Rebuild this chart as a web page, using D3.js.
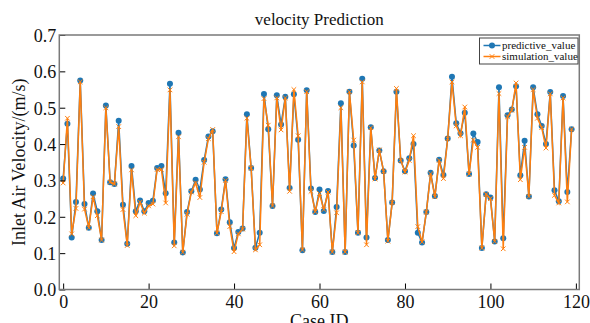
<!DOCTYPE html>
<html>
<head>
<meta charset="utf-8">
<script src="https://cdn.jsdelivr.net/npm/d3@7"></script>
<style>
  body { margin: 0; background: #fff; }
  text { font-family: "Liberation Serif", "Times New Roman", serif; }
</style>
</head>
<body>
<div id="chart"></div>
<script>
// values, case ids 0..119
const predictive_value = [
  0.305, 0.456, 0.143, 0.241, 0.575, 0.235, 0.170, 0.264, 0.215, 0.136,
  0.506, 0.295, 0.290, 0.464, 0.233, 0.126, 0.340, 0.215, 0.245, 0.215,
  0.238, 0.244, 0.334, 0.340, 0.265, 0.566, 0.129, 0.431, 0.102, 0.213,
  0.270, 0.302, 0.275, 0.356, 0.421, 0.435, 0.155, 0.220, 0.303, 0.185,
  0.114, 0.158, 0.168, 0.482, 0.334, 0.115, 0.156, 0.538, 0.441, 0.230,
  0.534, 0.454, 0.530, 0.279, 0.537, 0.412, 0.108, 0.548, 0.278, 0.213,
  0.275, 0.216, 0.271, 0.103, 0.227, 0.512, 0.103, 0.544, 0.396, 0.156,
  0.580, 0.143, 0.446, 0.307, 0.382, 0.325, 0.136, 0.239, 0.544, 0.355,
  0.325, 0.361, 0.400, 0.156, 0.129, 0.213, 0.321, 0.257, 0.357, 0.315,
  0.415, 0.585, 0.457, 0.430, 0.486, 0.318, 0.429, 0.406, 0.114, 0.262,
  0.253, 0.132, 0.556, 0.141, 0.479, 0.495, 0.559, 0.314, 0.409, 0.256,
  0.556, 0.482, 0.450, 0.400, 0.543, 0.273, 0.243, 0.532, 0.268, 0.441
];
const simulation_value = [
  0.293, 0.471, 0.153, 0.223, 0.571, 0.221, 0.170, 0.255, 0.203, 0.136,
  0.500, 0.295, 0.290, 0.448, 0.220, 0.121, 0.329, 0.203, 0.240, 0.210,
  0.230, 0.235, 0.330, 0.330, 0.238, 0.549, 0.120, 0.420, 0.102, 0.207,
  0.268, 0.293, 0.253, 0.350, 0.415, 0.440, 0.155, 0.214, 0.300, 0.173,
  0.104, 0.153, 0.166, 0.471, 0.334, 0.109, 0.123, 0.525, 0.452, 0.230,
  0.527, 0.439, 0.527, 0.270, 0.550, 0.423, 0.109, 0.544, 0.270, 0.214,
  0.264, 0.220, 0.268, 0.103, 0.211, 0.500, 0.103, 0.544, 0.411, 0.156,
  0.571, 0.123, 0.445, 0.304, 0.384, 0.325, 0.133, 0.239, 0.553, 0.355,
  0.323, 0.355, 0.423, 0.173, 0.131, 0.213, 0.318, 0.255, 0.355, 0.305,
  0.415, 0.571, 0.450, 0.423, 0.502, 0.318, 0.411, 0.391, 0.114, 0.262,
  0.250, 0.132, 0.539, 0.112, 0.475, 0.493, 0.568, 0.302, 0.391, 0.256,
  0.550, 0.471, 0.445, 0.389, 0.538, 0.259, 0.238, 0.527, 0.241, 0.441
];
const x_ticks = [0, 20, 40, 60, 80, 100, 120];
const y_ticks = [0.0, 0.1, 0.2, 0.3, 0.4, 0.5, 0.6, 0.7];
const series_names = ["predictive_value", "simulation_value"];

const blue = "#1f77b4";
const orange = "#ff7f0e";
const W = 590, H = 323;
const margin = { top: 35, right: 10.7, bottom: 33.5, left: 59.3 };
const width = W - margin.left - margin.right;
const height = H - margin.top - margin.bottom;

const svg = d3.select("#chart")
  .append("svg")
  .attr("width", W)
  .attr("height", H)
  .style("display", "block");

const g = svg.append("g")
  .attr("transform", `translate(${margin.left}, ${margin.top})`);

const x = d3.scaleLinear().domain([-0.9, 120.8]).range([0, width]);
const y = d3.scaleLinear().domain([0, 0.7]).range([height, 0]);

const line = d3.line()
  .x((d, i) => x(i))
  .y((d) => y(d));

// blue series first, orange drawn over it
g.append("path")
  .datum(predictive_value)
  .attr("fill", "none")
  .attr("stroke", blue)
  .attr("stroke-width", 1.5)
  .attr("d", line);

g.selectAll(".dot")
  .data(predictive_value)
  .join("circle")
  .attr("class", "dot")
  .attr("cx", (d, i) => x(i))
  .attr("cy", (d) => y(d))
  .attr("r", 3)
  .attr("fill", blue);

g.append("path")
  .datum(simulation_value)
  .attr("fill", "none")
  .attr("stroke", orange)
  .attr("stroke-width", 1.5)
  .attr("d", line);

const cross = (cx, cy, s) =>
  `M${cx - s},${cy - s}L${cx + s},${cy + s}M${cx - s},${cy + s}L${cx + s},${cy - s}`;

g.selectAll(".xmark")
  .data(simulation_value)
  .join("path")
  .attr("class", "xmark")
  .attr("d", (d, i) => cross(x(i), y(d), 2.3))
  .attr("stroke", orange)
  .attr("stroke-width", 1)
  .attr("fill", "none");

// axes, ticks pointing inward
const xAxis = g.append("g")
  .attr("transform", `translate(0, ${height})`)
  .call(d3.axisBottom(x).tickValues(x_ticks).tickSize(-6).tickPadding(6).tickFormat(d3.format("d")));

const yAxis = g.append("g")
  .call(d3.axisLeft(y).tickValues(y_ticks).tickSize(-6).tickPadding(3).tickFormat(d3.format(".1f")));

[xAxis, yAxis].forEach((a) => {
  a.select(".domain").remove();
  a.selectAll(".tick line").attr("stroke", "#000").attr("stroke-width", 1);
  a.selectAll(".tick text")
    .attr("fill", "#111")
    .style("font-size", "18px")
    .style("font-family", "'Liberation Serif', serif");
});
yAxis.selectAll(".tick text").attr("dy", "0.36em");

// frame
g.append("rect")
  .attr("width", width)
  .attr("height", height)
  .attr("fill", "none")
  .attr("stroke", "#7a7a7a")
  .attr("stroke-width", 1.5);

// titles
svg.append("text")
  .attr("x", margin.left + width / 2)
  .attr("y", 25)
  .attr("text-anchor", "middle")
  .style("font-size", "17px")
  .attr("fill", "#111")
  .text("velocity Prediction");

svg.append("text")
  .attr("x", margin.left + width / 2)
  .attr("y", 327)
  .attr("text-anchor", "middle")
  .style("font-size", "18px")
  .attr("fill", "#111")
  .text("Case ID");

svg.append("text")
  .attr("transform", `translate(25, ${margin.top + height / 2}) rotate(-90)`)
  .attr("text-anchor", "middle")
  .style("font-size", "18px")
  .attr("fill", "#111")
  .text("Inlet Air Velocity/(m/s)");

// legend
const legend = svg.append("g").attr("transform", "translate(479.5, 38)");
legend.append("rect")
  .attr("width", 98.5)
  .attr("height", 26)
  .attr("fill", "#fff")
  .attr("stroke", "#444")
  .attr("stroke-width", 1);

const items = legend.selectAll(".item")
  .data(series_names)
  .join("g")
  .attr("class", "item")
  .attr("transform", (d, i) => `translate(0, ${7.5 + i * 11})`);

items.append("line")
  .attr("x1", 4).attr("x2", 21)
  .attr("stroke", (d, i) => (i === 0 ? blue : orange))
  .attr("stroke-width", 1.5);

items.each(function (d, i) {
  const it = d3.select(this);
  if (i === 0) {
    it.append("circle").attr("cx", 12.5).attr("r", 3).attr("fill", blue);
  } else {
    it.append("path").attr("d", cross(12.5, 0, 2.3)).attr("stroke", orange).attr("fill", "none");
  }
});

items.append("text")
  .attr("x", 22.5)
  .attr("dy", "0.35em")
  .style("font-size", "11px")
  .attr("fill", "#111")
  .text((d) => d);
</script>
</body>
</html>
